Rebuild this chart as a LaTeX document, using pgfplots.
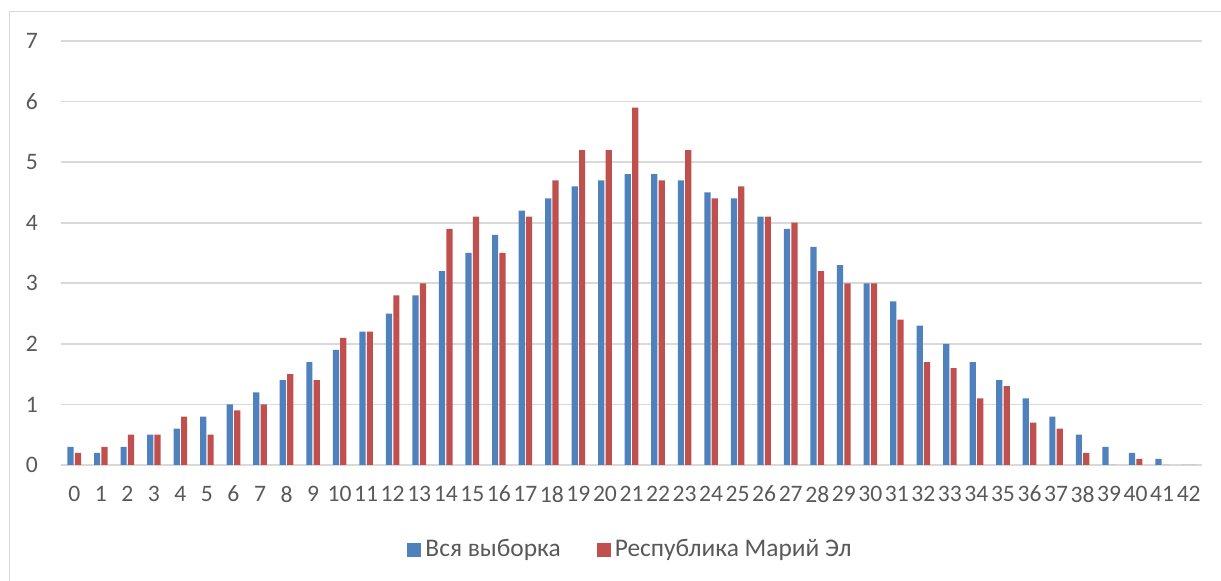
\documentclass[border=0pt]{standalone}
\usepackage{fontspec}
\setmainfont{Carlito}
\usepackage{pgfplots}
\usepackage{pgfplotstable}
\pgfplotsset{compat=1.18}
\definecolor{sblue}{HTML}{4F81BD}
\definecolor{sred}{HTML}{C0504D}
\definecolor{gridc}{HTML}{D9D9D9}
\definecolor{txt}{HTML}{595959}

\pgfplotstableread{
x  all  mari
0  0.3  0.2
1  0.2  0.3
2  0.3  0.5
3  0.5  0.5
4  0.6  0.8
5  0.8  0.5
6  1.0  0.9
7  1.2  1.0
8  1.4  1.5
9  1.7  1.4
10 1.9  2.1
11 2.2  2.2
12 2.5  2.8
13 2.8  3.0
14 3.2  3.9
15 3.5  4.1
16 3.8  3.5
17 4.2  4.1
18 4.4  4.7
19 4.6  5.2
20 4.7  5.2
21 4.8  5.9
22 4.8  4.7
23 4.7  5.2
24 4.5  4.4
25 4.4  4.6
26 4.1  4.1
27 3.9  4.0
28 3.6  3.2
29 3.3  3.0
30 3.0  3.0
31 2.7  2.4
32 2.3  1.7
33 2.0  1.6
34 1.7  1.1
35 1.4  1.3
36 1.1  0.7
37 0.8  0.6
38 0.5  0.2
39 0.3  0.0
40 0.2  0.1
41 0.1  0.0
42 0.0  0.0
}\datatable

\begin{document}
\begin{tikzpicture}
\useasboundingbox (-30.5pt,-58pt) rectangle (580pt,232.5pt);
\draw[gridc, line width=0.75pt] (-25.75pt,-60pt) -- (-25.75pt,226.75pt) -- (582pt,226.75pt);
\begin{axis}[
  scale only axis, width=570.5pt, height=212pt,
  at={(0,0)}, anchor=south west,
  xmin=-0.5, xmax=42.5, ymin=0, ymax=7,
  ybar=0.6pt, bar width=3.1pt,
  axis line style={draw=none},
  ymajorgrids, grid style={gridc, line width=0.9pt},
  major tick length=0pt,
  xtick={0,...,42}, ytick={0,...,7},
  ticklabel style={font=\fontsize{11.8}{14}\selectfont, text=txt},
  /pgf/number format/assume math mode=true,
  yticklabel style={xshift=-8pt},
  xticklabel style={yshift=-7pt},
  legend style={at={(0.5,-0.2)}, anchor=center, draw=none, fill=none,
    legend columns=2, font=\fontsize{12.7}{14}\selectfont, text=txt,
    /tikz/every even column/.append style={column sep=16pt}},
  legend image code/.code={\fill[#1, draw=none] (0pt,-3.5pt) rectangle (7pt,3.5pt);},
]
\addplot[fill=sblue, draw=none] table[x=x, y=all] {\datatable};
\addlegendentry{Вся выборка}
\addplot[fill=sred, draw=none] table[x=x, y=mari] {\datatable};
\addlegendentry{Республика Марий Эл}
\end{axis}
\end{tikzpicture}
\end{document}
